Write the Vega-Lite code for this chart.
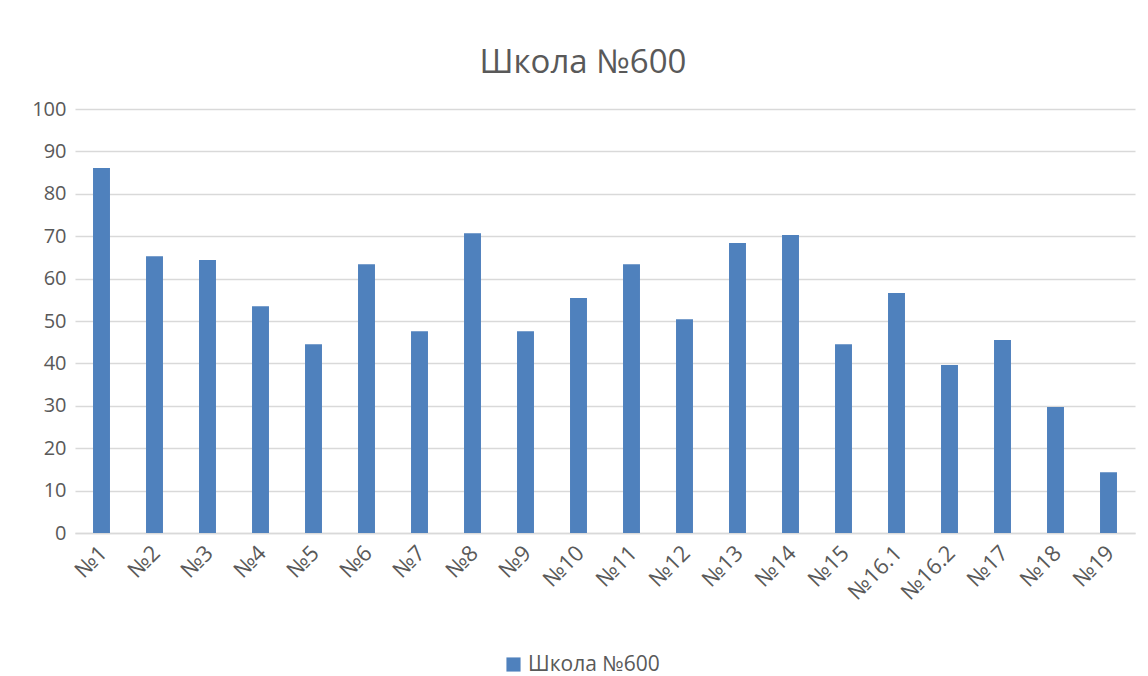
{
  "$schema": "https://vega.github.io/schema/vega-lite/v6.json",
  "autosize": {"type": "none"},
  "width": 1060,
  "height": 424,
  "padding": {"left": 75, "top": 109, "right": 13, "bottom": 143},
  "background": "white",
  "title": {
    "text": "Школа №600",
    "anchor": "middle",
    "dx": -22,
    "offset": 19,
    "font": "Open Sans",
    "fontSize": 33,
    "fontWeight": "normal",
    "color": "#595959"
  },
  "data": {
    "values": [
      {"k": "№1", "v": 86.1, "s": "Школа №600"},
      {"k": "№2", "v": 65.3, "s": "Школа №600"},
      {"k": "№3", "v": 64.4, "s": "Школа №600"},
      {"k": "№4", "v": 53.5, "s": "Школа №600"},
      {"k": "№5", "v": 44.5, "s": "Школа №600"},
      {"k": "№6", "v": 63.4, "s": "Школа №600"},
      {"k": "№7", "v": 47.6, "s": "Школа №600"},
      {"k": "№8", "v": 70.7, "s": "Школа №600"},
      {"k": "№9", "v": 47.6, "s": "Школа №600"},
      {"k": "№10", "v": 55.4, "s": "Школа №600"},
      {"k": "№11", "v": 63.4, "s": "Школа №600"},
      {"k": "№12", "v": 50.4, "s": "Школа №600"},
      {"k": "№13", "v": 68.4, "s": "Школа №600"},
      {"k": "№14", "v": 70.3, "s": "Школа №600"},
      {"k": "№15", "v": 44.5, "s": "Школа №600"},
      {"k": "№16.1", "v": 56.6, "s": "Школа №600"},
      {"k": "№16.2", "v": 39.6, "s": "Школа №600"},
      {"k": "№17", "v": 45.5, "s": "Школа №600"},
      {"k": "№18", "v": 29.7, "s": "Школа №600"},
      {"k": "№19", "v": 14.3, "s": "Школа №600"}
    ]
  },
  "mark": {"type": "bar"},
  "encoding": {
    "x": {
      "field": "k",
      "type": "nominal",
      "sort": null,
      "scale": {"paddingInner": 0.68, "paddingOuter": 0.34},
      "axis": {
        "title": null,
        "labelAngle": -45,
        "labelFont": "Open Sans",
        "labelFontSize": 22,
        "labelColor": "#595959",
        "ticks": false,
        "labelPadding": 9,
        "labelOffset": -5,
        "domainColor": "#D9D9D9",
        "domainWidth": 1.5
      }
    },
    "y": {
      "field": "v",
      "type": "quantitative",
      "scale": {"domain": [0, 100]},
      "axis": {
        "title": null,
        "values": [0, 10, 20, 30, 40, 50, 60, 70, 80, 90, 100],
        "labelFont": "Open Sans",
        "labelFontSize": 20,
        "labelColor": "#595959",
        "ticks": false,
        "domain": false,
        "labelPadding": 9,
        "gridColor": "#D9D9D9",
        "gridWidth": 1.5
      }
    },
    "color": {
      "field": "s",
      "type": "nominal",
      "scale": {"range": ["#4F81BD"]},
      "legend": {
        "title": null,
        "orient": "none",
        "legendX": 428,
        "legendY": 545,
        "symbolType": "square",
        "symbolSize": 200,
        "symbolStrokeWidth": 0,
        "labelFont": "Open Sans",
        "labelFontSize": 21,
        "labelColor": "#595959"
      }
    }
  },
  "config": {"view": {"stroke": null}}
}
